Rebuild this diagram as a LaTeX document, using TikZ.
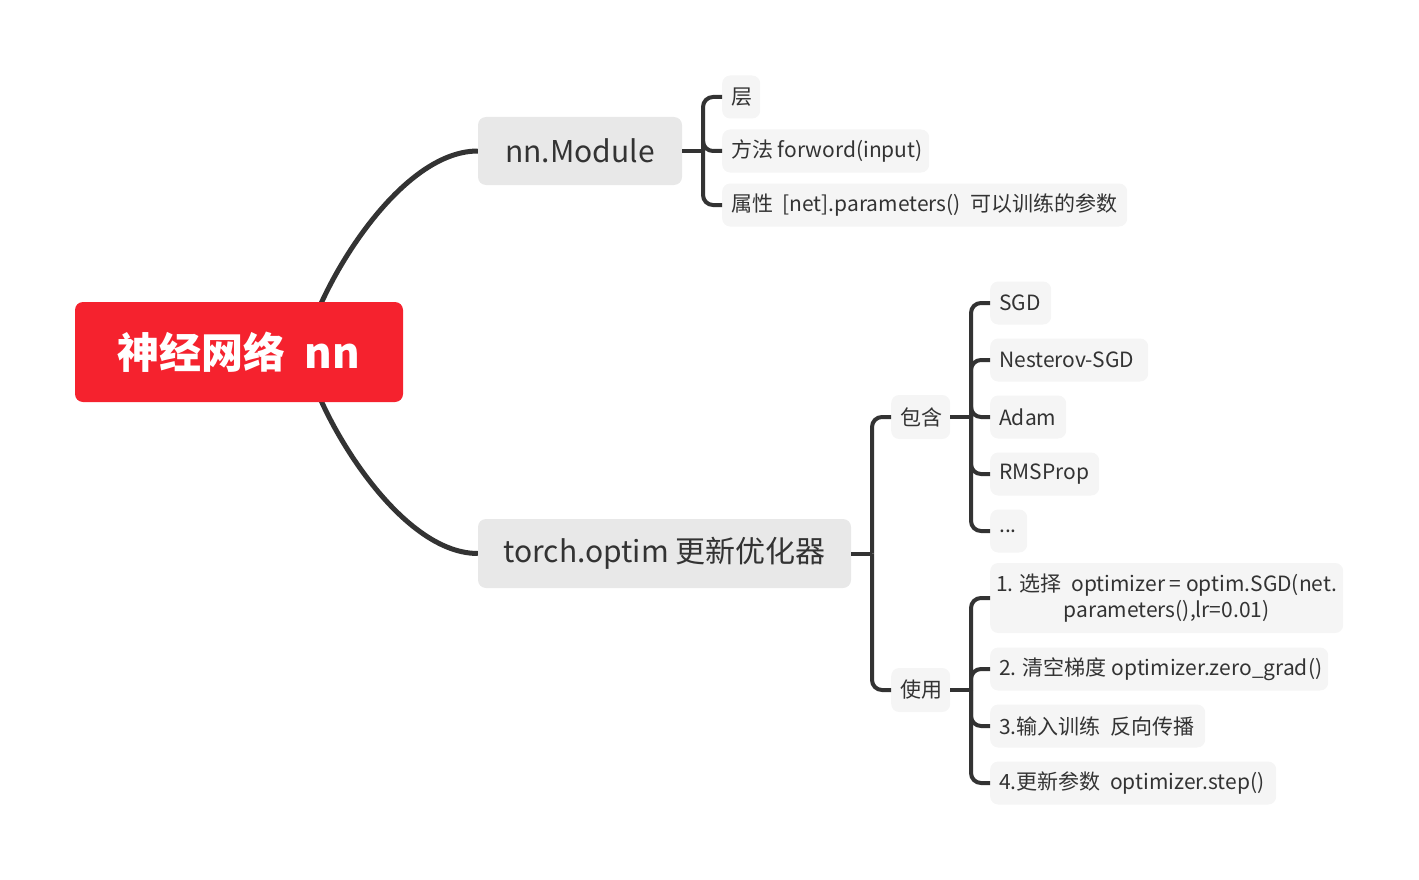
\documentclass[tikz,border=0pt]{standalone}
\usepackage{fontspec}
\setmainfont{Noto Sans CJK SC}
\usetikzlibrary{backgrounds}
\definecolor{rootred}{RGB}{245,34,46}
\definecolor{lvlone}{RGB}{232,232,232}
\definecolor{lvltwo}{RGB}{245,245,245}
\definecolor{ink}{RGB}{51,51,51}
\newcommand{\lftbox}[2]{\raisebox{-2pt}{\makebox[#1][l]{#2}}}
\tikzset{
  rootbox/.style={rectangle, rounded corners=8, fill=rootred, text=white, font=\fontsize{42}{48}\selectfont\bfseries, minimum width=328, minimum height=100, inner sep=0},
  onebox/.style={rectangle, rounded corners=8, fill=lvlone, text=ink, font=\fontsize{30}{36}\selectfont, minimum height=68, inner sep=0},
  twobox/.style={rectangle, rounded corners=8, fill=lvltwo, text=ink, font=\fontsize{21}{27}\selectfont, minimum height=43, inner xsep=9pt, inner ysep=0pt, anchor=west},
  curvelink/.style={draw=ink, line width=5},
  bracket/.style={draw=ink, line width=4, rounded corners=10},
  stub/.style={draw=ink, line width=4}
}
\begin{document}
\begin{tikzpicture}[x=1pt,y=-1pt]
\useasboundingbox (0,0) rectangle (1419,880);
% root
\node[rootbox] (root) at (239,352) {神经网络\ \ nn};
% level 1
\node[onebox, minimum width=204] (nm) at (580,151) {\raisebox{-1pt}{nn.Module}};
\node[onebox, minimum width=373, minimum height=69] (to) at (664.5,553.5) {\raisebox{-1pt}{torch.optim 更新优化器}};
% nn.Module children
\node[twobox] (c1) at (722,97) {\lftbox{20pt}{层}};
\node[twobox] (c2) at (722,151) {\lftbox{189pt}{方法 forword(input)}};
\node[twobox] (c3) at (722,205) {\lftbox{387pt}{属性\ \ [net].parameters()\ \ 可以训练的参数}};
% torch.optim children
\node[twobox, minimum height=44] (bh) at (891,417) {\lftbox{41pt}{包含}};
\node[twobox, minimum height=44] (sy) at (891,690) {\lftbox{41pt}{使用}};
% 包含 children
\node[twobox] (sgd) at (990,303) {\lftbox{43pt}{SGD}};
\node[twobox] (nes) at (990,360) {\lftbox{140pt}{Nesterov-SGD}};
\node[twobox] (adam) at (990,417) {\lftbox{58pt}{Adam}};
\node[twobox] (rms) at (990,474) {\lftbox{91pt}{RMSProp}};
\node[twobox] (dots) at (990,531) {\lftbox{19pt}{...}};
% 使用 children
\node[twobox, minimum width=353, minimum height=70, inner xsep=0pt, align=center] (u1) at (990,598) {\raisebox{-2pt}{\shortstack{1. 选择\ \ optimizer = optim.SGD(net.\\[1pt]parameters(),lr=0.01)}}};
\node[twobox] (u2) at (990,669) {\lftbox{320pt}{2. 清空梯度 optimizer.zero\_grad()}};
\node[twobox] (u3) at (990,726) {\lftbox{197pt}{3.输入训练\ \ 反向传播}};
\node[twobox] (u4) at (990,783) {\lftbox{268pt}{4.更新参数\ \ optimizer.step()}};
% junctions
\coordinate (rs) at (305,352);
\coordinate (j1) at (703,151);
\coordinate (j2) at (872,553.5);
\coordinate (j3) at (971,417);
\coordinate (j4) at (971,690);
\begin{pgfonlayer}{background}
\draw[curvelink] (rs) .. controls (312,300) and (395,151) .. (nm.west);
\draw[curvelink] (rs) .. controls (312,404) and (395,553.5) .. (to.west);
\end{pgfonlayer}
% brackets
\draw[stub] (nm.east) -- (j1);
\draw[bracket] (j1) |- (c1.west);
\draw[bracket] (j1) |- (c2.west);
\draw[bracket] (j1) |- (c3.west);
\draw[stub] (to.east) -- (j2);
\draw[bracket] (j2) |- (bh.west);
\draw[bracket] (j2) |- (sy.west);
\draw[stub] (bh.east) -- (j3);
\draw[bracket] (j3) |- (sgd.west);
\draw[bracket] (j3) |- (nes.west);
\draw[bracket] (j3) |- (adam.west);
\draw[bracket] (j3) |- (rms.west);
\draw[bracket] (j3) |- (dots.west);
\draw[stub] (sy.east) -- (j4);
\draw[bracket] (j4) |- (u1.west);
\draw[bracket] (j4) |- (u2.west);
\draw[bracket] (j4) |- (u3.west);
\draw[bracket] (j4) |- (u4.west);
\end{tikzpicture}
\end{document}
